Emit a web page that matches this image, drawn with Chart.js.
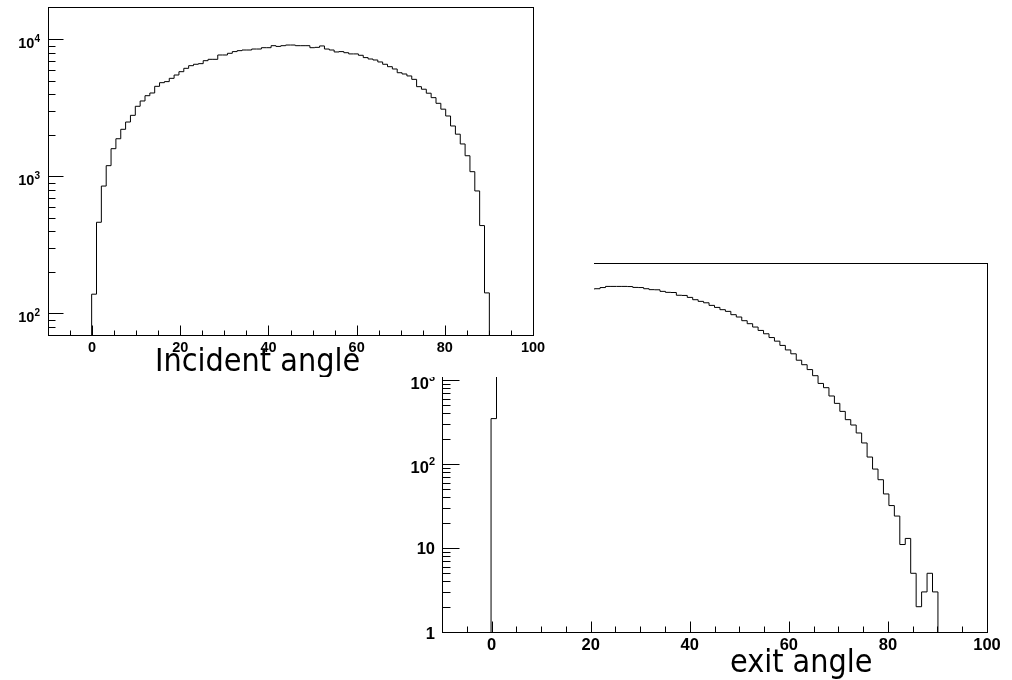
<!DOCTYPE html>
<html>
<head>
<meta charset="utf-8">
<title>Incident and exit angle</title>
<script src="https://cdn.jsdelivr.net/npm/chart.js@4.4.1/dist/chart.umd.min.js"></script>
<style>
    html, body { margin: 0; padding: 0; background: #fff; }
    #stage { position: relative; width: 1012px; height: 680px; overflow: hidden; background: #fff; }
    #stage canvas { position: absolute; left: 0; top: 0; }
    #incidentChart { background: #fff; z-index: 1; }
</style>
</head>
<body>
<div id="stage">
    <canvas id="exitChart" width="1012" height="680"></canvas>
    <canvas id="incidentChart" width="594" height="377"></canvas>
</div>
<script>
// both histograms: 100 bins of 1.1 deg from -10 to 100, only bins 9..90 are filled
const binLow = -10;
const binWidth = 1.1;
const firstFilledBin = 9;

// incident angle counts, bins 9..90
const incidentCounts = [
    138, 462, 849, 1196, 1591, 1880, 2203, 2490, 2786, 3243,
    3546, 3875, 4055, 4536, 4822, 4909, 5188, 5486, 5801, 6139,
    6416, 6570, 6640, 6980, 7140, 7140, 7680, 7680, 7900, 8130,
    8260, 8350, 8350, 8490, 8490, 8680, 8680, 8980, 8870, 8980,
    9080, 9080, 8980, 8980, 8980, 8680, 8730, 8940, 8490, 8350,
    8080, 8130, 7980, 7820, 7820, 7640, 7350, 7180, 7060, 6830,
    6570, 6310, 6070, 5700, 5580, 5400, 5100, 4510, 4320, 4040,
    3750, 3410, 3090, 2755, 2330, 2030, 1722, 1413, 1081, 782,
    437, 141,
];

// exit angle counts, bins 9..90
const exitCounts = [
    347, 1900, 3300, 4500, 5500, 6400, 7200, 7900, 8500, 9100,
    9600, 10100, 10500, 10900, 11300, 11600, 11800, 12000, 12100, 12200,
    12600, 13000, 13000, 13000, 13000, 12950, 12650, 12600, 12200, 11900,
    11850, 11350, 11050, 11000, 10200, 10150, 9620, 9030, 8630, 8300,
    7730, 7310, 6870, 6560, 5990, 5620, 5080, 4680, 4270, 3890,
    3550, 3200, 2900, 2580, 2280, 2050, 1720, 1520, 1330, 1125,
    910, 810, 645, 527, 423, 337, 291, 234, 178, 121,
    87, 65, 44, 32, 24, 11, 13, 5, 2, 3,
    5, 3,
];

const xRange = [-10, 100];
const xMajorTicks = [0, 20, 40, 60, 80, 100];
const xMinorStep = 5;
const incidentYRange = [69.5, 17200];
const exitYRange = [1, 24700];
const incidentYTicks = [100, 1000, 10000];
const exitYTicks = [1, 10, 100, 1000, 10000];

// ROOT style step outline, dropping to the axis floor at both ends
const histogramPoints = (counts, floor) => {
    const edge = (bin) => +(binLow + bin * binWidth).toFixed(4);
    const points = [{ x: edge(firstFilledBin), y: floor }];
    counts.forEach((count, i) => points.push({ x: edge(firstFilledBin + i), y: count }));
    points.push({ x: edge(firstFilledBin + counts.length), y: floor });
    return points;
};

// frame, inward ticks, labels and axis title in the ROOT look
const rootAxes = {
    id: 'rootAxes',
    afterDatasetsDraw(chart, _args, opts) {
        const { ctx, chartArea: area, scales: { x, y } } = chart;
        const left = Math.round(area.left) + 0.5;
        const right = Math.round(area.right) + 0.5;
        const top = Math.round(area.top) + 0.5;
        const bottom = Math.round(area.bottom) + 0.5;
        ctx.save();
        ctx.strokeStyle = '#000';
        ctx.fillStyle = '#000';
        ctx.lineWidth = 1;
        ctx.strokeRect(left, top, right - left, bottom - top);

        ctx.beginPath();
        for (let v = xRange[0] + xMinorStep; v < xRange[1]; v += xMinorStep) {
            const px = Math.round(x.getPixelForValue(v)) + 0.5;
            const len = xMajorTicks.includes(v) ? opts.xMajor : opts.xMinor;
            ctx.moveTo(px, bottom);
            ctx.lineTo(px, bottom - len);
        }
        const lo = Math.floor(Math.log10(y.min));
        const hi = Math.ceil(Math.log10(y.max));
        for (let d = lo; d <= hi; d++) {
            for (let m = 1; m <= 9; m++) {
                const v = m * Math.pow(10, d);
                if (v < y.min || v > y.max) continue;
                const py = Math.round(y.getPixelForValue(v)) + 0.5;
                ctx.moveTo(left, py);
                ctx.lineTo(left + (m === 1 ? opts.yMajor : opts.yMinor), py);
            }
        }
        ctx.stroke();

        ctx.font = opts.font;
        ctx.textAlign = 'center';
        ctx.textBaseline = 'alphabetic';
        xMajorTicks.forEach((v) => {
            ctx.fillText(String(v), x.getPixelForValue(v), bottom + opts.xLabelDrop);
        });

        ctx.textAlign = 'right';
        opts.yTicks.forEach((v) => {
            if (v < y.min || v > y.max) return;
            const py = y.getPixelForValue(v);
            const edge = area.left - opts.yLabelGap;
            const exponent = Math.round(Math.log10(v));
            if (exponent < 2) {
                ctx.font = opts.font;
                ctx.fillText(String(v), edge, py + opts.plainDrop);
                return;
            }
            ctx.font = opts.supFont;
            const sup = String(exponent);
            const supWidth = ctx.measureText(sup).width;
            ctx.fillText(sup, edge, py + opts.powerDrop - opts.supRaise);
            ctx.font = opts.font;
            ctx.fillText('10', edge - supWidth, py + opts.powerDrop);
        });

        ctx.font = opts.titleFont;
        ctx.textAlign = 'left';
        ctx.fillText(opts.title, opts.titleX, opts.titleY);
        ctx.restore();
    },
};

const makeHistogram = (canvasId, counts, yRange, padding, axes) => new Chart(byId(canvasId), {
    type: 'line',
    data: {
        datasets: [{
            data: histogramPoints(counts, yRange[0]),
            borderColor: '#000',
            borderWidth: 1,
            pointRadius: 0,
            stepped: true,
            tension: 0,
            fill: false,
        }],
    },
    options: {
        responsive: false,
        animation: false,
        events: [],
        layout: { padding },
        scales: {
            x: { type: 'linear', display: false, min: xRange[0], max: xRange[1] },
            y: { type: 'logarithmic', display: false, min: yRange[0], max: yRange[1] },
        },
        plugins: {
            legend: { display: false },
            tooltip: { enabled: false },
            rootAxes: axes,
        },
    },
    plugins: [rootAxes],
});

function byId(id) { return document.getElementById(id); }

const titleFont = '32px "DejaVu Sans Condensed", "DejaVu Sans", sans-serif';

makeHistogram('exitChart', exitCounts, exitYRange,
    { left: 442, top: 263, right: 25, bottom: 48 },
    {
        font: 'bold 16.5px "Liberation Sans", Arial, sans-serif',
        supFont: 'bold 11px "Liberation Sans", Arial, sans-serif',
        yTicks: exitYTicks,
        xMajor: 11, xMinor: 6, yMajor: 17, yMinor: 8,
        xLabelDrop: 17, yLabelGap: 7, plainDrop: 6.5, powerDrop: 9.3, supRaise: 8,
        title: 'exit angle', titleFont, titleX: 730, titleY: 672,
    });

makeHistogram('incidentChart', incidentCounts, incidentYRange,
    { left: 48, top: 7, right: 61, bottom: 42 },
    {
        font: 'bold 14.5px "Liberation Sans", Arial, sans-serif',
        supFont: 'bold 10px "Liberation Sans", Arial, sans-serif',
        yTicks: incidentYTicks,
        xMajor: 10, xMinor: 5, yMajor: 15, yMinor: 7,
        xLabelDrop: 16, yLabelGap: 8, plainDrop: 6.5, powerDrop: 9, supRaise: 6.6,
        title: 'Incident angle', titleFont, titleX: 155, titleY: 371,
    });
</script>
</body>
</html>
